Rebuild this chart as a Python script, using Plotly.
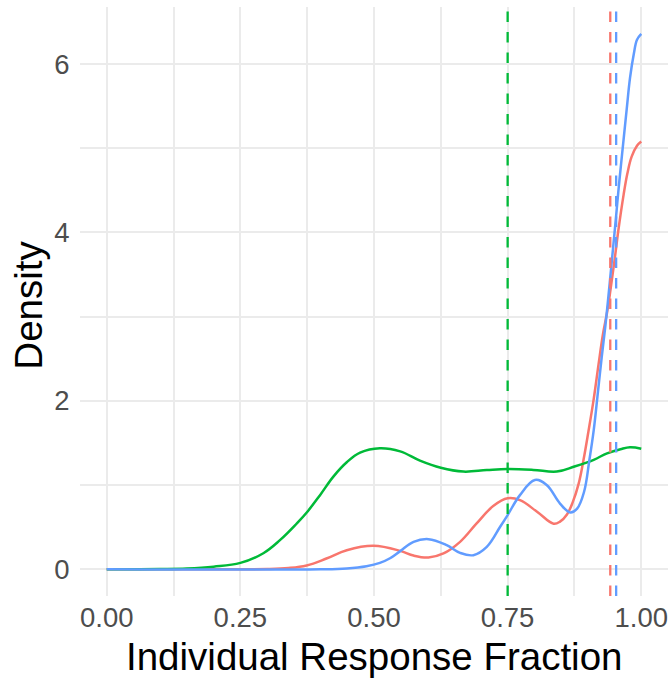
import plotly.graph_objects as go

# ---- data ----
red_x = [0.0, 0.25, 0.30, 0.34, 0.374, 0.411, 0.449, 0.499, 0.549, 0.574, 0.602, 0.630,
         0.661, 0.692, 0.723, 0.750, 0.773, 0.805, 0.836, 0.848, 0.861, 0.872, 0.883,
         0.892, 0.901, 0.911, 0.920, 0.928, 0.936, 0.942, 0.951, 0.957, 0.967, 0.974,
         0.982, 0.992, 1.0]
red_y = [0.0, 0.0, 0.002, 0.014, 0.045, 0.127, 0.226, 0.278, 0.218, 0.162, 0.139, 0.187,
         0.325, 0.544, 0.75, 0.842, 0.82, 0.683, 0.540, 0.565, 0.65, 0.80, 1.02,
         1.30, 1.63, 2.02, 2.43, 2.78, 3.05, 3.30, 3.72, 4.02, 4.45, 4.70,
         4.90, 5.03, 5.08]

green_x = [0.0, 0.10, 0.15, 0.20, 0.25, 0.293, 0.324, 0.355, 0.375, 0.399, 0.424, 0.449,
           0.474, 0.511, 0.549, 0.586, 0.625, 0.667, 0.711, 0.750, 0.798, 0.842, 0.875,
           0.911, 0.936, 0.961, 0.979, 1.0]
green_y = [0.0, 0.002, 0.008, 0.03, 0.075, 0.19, 0.345, 0.54, 0.68, 0.88, 1.10, 1.27,
           1.385, 1.437, 1.400, 1.290, 1.205, 1.160, 1.178, 1.19, 1.18, 1.16, 1.22,
           1.30, 1.377, 1.425, 1.449, 1.432]

blue_x = [0.0, 0.40, 0.449, 0.486, 0.511, 0.530, 0.549, 0.574, 0.602, 0.636, 0.661, 0.686,
          0.711, 0.736, 0.750, 0.773, 0.801, 0.823, 0.848, 0.867, 0.880, 0.893, 0.903,
          0.911, 0.918, 0.926, 0.933, 0.941, 0.947, 0.953, 0.957, 0.962, 0.967, 0.973,
          0.979, 0.986, 0.992, 1.0]
blue_y = [0.0, 0.0, 0.01, 0.036, 0.075, 0.13, 0.215, 0.325, 0.357, 0.286, 0.194, 0.167,
          0.265, 0.504, 0.643, 0.88, 1.06, 1.0, 0.78, 0.675, 0.72, 0.92, 1.30,
          1.65, 2.05, 2.52, 2.90, 3.40, 3.80, 4.20, 4.48, 4.80, 5.11, 5.48,
          5.84, 6.12, 6.29, 6.36]

group_means = {"red": 0.942, "green": 0.750, "blue": 0.953}
group_colors = {"red": "#F8766D", "green": "#00BA38", "blue": "#619CFF"}

x_tick_vals = [0.0, 0.25, 0.50, 0.75, 1.00]
x_tick_text = ["0.00", "0.25", "0.50", "0.75", "1.00"]
y_tick_vals = [0, 2, 4, 6]
y_tick_text = ["0", "2", "4", "6"]

x_title = "Individual Response Fraction"
y_title = "Density"

# ---- figure ----
fig = go.Figure()
series = [("red", red_x, red_y), ("green", green_x, green_y), ("blue", blue_x, blue_y)]
for name, xs, ys in series:
    fig.add_trace(go.Scatter(
        x=xs, y=ys, mode="lines", name=name,
        line=dict(color=group_colors[name], width=2.5, shape="spline", smoothing=1.1),
        showlegend=False, hoverinfo="skip"))

for name in ["red", "green", "blue"]:
    fig.add_vline(x=group_means[name],
                  line=dict(color=group_colors[name], width=2.3, dash="10.5px,10px"))

ymax = max(max(red_y), max(green_y), max(blue_y))
ypad = 0.05 * ymax

grid_col = "#EBEBEB"
font_family = "Liberation Sans, Arial, sans-serif"
tick_font = dict(family=font_family, size=27.5, color="#4D4D4D")

fig.update_layout(
    width=669, height=681,
    margin=dict(l=80, r=1, t=7, b=85),
    plot_bgcolor="white", paper_bgcolor="white",
    font=dict(family=font_family),
    xaxis=dict(
        range=[-0.05, 1.05], tickvals=x_tick_vals, ticktext=x_tick_text,
        showgrid=True, gridcolor=grid_col, gridwidth=2.0,
        minor=dict(dtick=0.125, tick0=0, showgrid=True, gridcolor=grid_col, gridwidth=2.0, ticklen=0),
        zeroline=False, showline=False,
        ticks="", ticklen=0, ticklabelstandoff=2,
        tickfont=tick_font,
    ),
    yaxis=dict(
        range=[-ypad, ymax + ypad], tickvals=y_tick_vals, ticktext=y_tick_text,
        showgrid=True, gridcolor=grid_col, gridwidth=2.0,
        minor=dict(dtick=1, tick0=0, showgrid=True, gridcolor=grid_col, gridwidth=2.0, ticklen=0),
        zeroline=False, showline=False,
        ticks="outside", ticklen=4, tickcolor="rgba(0,0,0,0)",
        tickfont=tick_font,
    ),
    annotations=[
        dict(text=x_title, xref="paper", yref="paper", x=0.5, y=-0.102,
             xanchor="center", yanchor="middle", showarrow=False,
             font=dict(family=font_family, size=38.5, color="black")),
        dict(text=y_title, xref="paper", yref="paper", x=-0.0867, y=0.493,
             xanchor="center", yanchor="middle", showarrow=False, textangle=-90,
             font=dict(family=font_family, size=38.5, color="black")),
    ],
)

fig.write_html("out.html")
